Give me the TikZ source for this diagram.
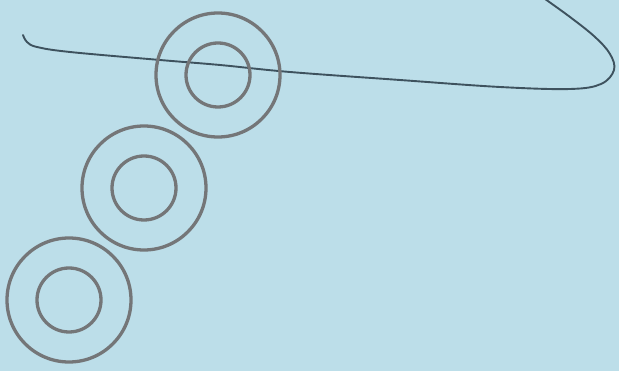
\documentclass[tikz,border=0pt]{standalone}
\usepackage{xcolor}
\usepackage{tikz}
\usetikzlibrary{positioning}

\definecolor{paperblue}{RGB}{188,222,233}
\definecolor{ringgray}{RGB}{116,118,120}
\definecolor{penblue}{RGB}{62,82,94}

\begin{document}
\begin{tikzpicture}[
      x=1pt, y=-1pt,
      outerring/.style={
         circle,
         draw=ringgray,
         line width=3.3pt,
         inner sep=0pt,
         minimum size=124pt},
      innerring/.style={
         circle,
         draw=ringgray,
         line width=3.3pt,
         inner sep=0pt,
         minimum size=64pt},
      penline/.style={draw=penblue, line width=1.9pt, line cap=round}
      ]
      \useasboundingbox (0,0) rectangle (619,371);
      \clip (0,0) rectangle (619,371);
      \fill[paperblue] (0,0) rectangle (619,371);

      % hand drawn loop
      \draw[penline] plot[smooth, tension=0.6] coordinates {
        (23,35) (27,42) (37,47) (70,52) (160,60) (220,65) (290,72)
        (400,80) (500,87) (570,89) (601,84) (614,70) (610,54)
        (595,37) (570,17) (538,-6)};

    \foreach \n/\x/\y in {% name/centre x/centre y
      a/218/75,
      b/144/188,
      c/69/300
      }
      {
       \node[outerring] (out\n) at (\x,\y) {};
       \node[innerring] (in\n) at (\x,\y) {};
      }

    \end{tikzpicture}
\end{document}
